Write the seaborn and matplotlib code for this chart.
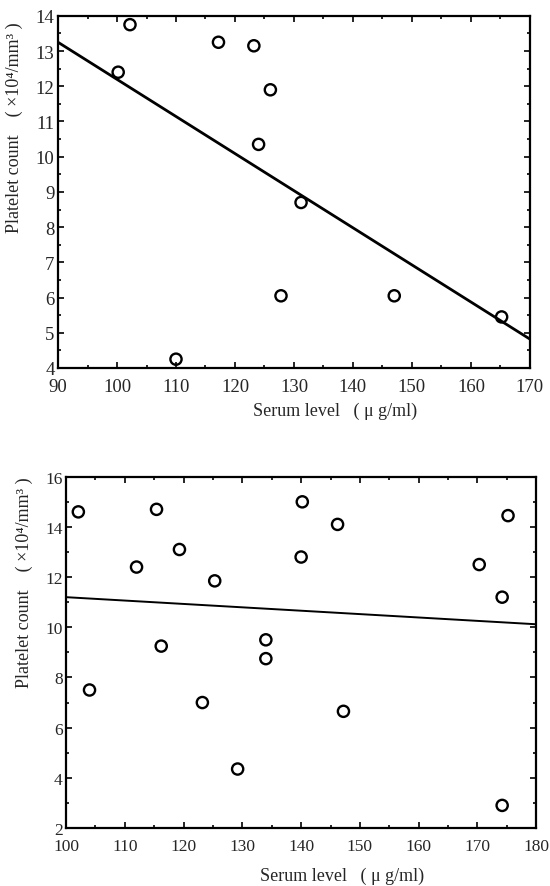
import numpy as np
import pandas as pd
import seaborn as sns
from matplotlib import pyplot as plt
from matplotlib.ticker import MultipleLocator

# panel 1 (top)
serum_top = [100.2, 102.2, 110.0, 117.2, 123.2, 126.0, 124.0, 131.2, 127.8, 147.0, 165.2]
platelet_top = [12.4, 13.75, 4.25, 13.25, 13.15, 11.9, 10.35, 8.7, 6.05, 6.05, 5.45]
fit_x_top = [90, 170]
fit_y_top = [13.25, 4.82]

# panel 2 (bottom)
serum_bot = [102.1, 104.0, 112.0, 115.4, 116.2, 119.3, 123.2, 125.3, 129.2, 134.0, 134.0,
             140.2, 140.0, 146.2, 147.2, 170.3, 175.2, 174.2, 174.2]
platelet_bot = [14.6, 7.5, 12.4, 14.7, 9.25, 13.1, 7.0, 11.85, 4.35, 9.5, 8.75,
                15.0, 12.8, 14.1, 6.65, 12.5, 14.45, 11.2, 2.9]
fit_x_bot = [100, 180]
fit_y_bot = [11.2, 10.12]

sns.set_style("ticks")
plt.rcParams['font.family'] = ['Liberation Serif', 'DejaVu Serif']

fig = plt.figure(figsize=(5.5, 8.87), dpi=100)
ax1 = fig.add_axes([0.1055, 0.584, 0.858, 0.397])
ax2 = fig.add_axes([0.12, 0.0654, 0.855, 0.396])

top = pd.DataFrame({"serum": serum_top, "platelet": platelet_top})
bot = pd.DataFrame({"serum": serum_bot, "platelet": platelet_bot})

ylab = "Platelet count    ( ×10⁴/mm³ )"
xlab = "Serum level   ( μ g/ml)"

panels = [
    (ax1, top, fit_x_top, fit_y_top, (90, 170), (4, 14), 1, 0.5, 2.0, 13.5),
    (ax2, bot, fit_x_bot, fit_y_bot, (100, 180), (2, 16), 2, 1, 1.4, 12.5),
]
for ax, df, fx, fy, xl, yl, ymaj, ymin, lw, fs in panels:
    sns.lineplot(x=fx, y=fy, ax=ax, color="black", lw=lw)
    sns.scatterplot(data=df, x="serum", y="platelet", ax=ax, s=65, marker="o",
                    facecolor="none", edgecolor="black", linewidth=1.7, zorder=3)
    ax.set_xlim(*xl)
    ax.set_ylim(*yl)
    ax.xaxis.set_major_locator(MultipleLocator(10))
    ax.xaxis.set_minor_locator(MultipleLocator(5))
    ax.yaxis.set_major_locator(MultipleLocator(ymaj))
    ax.yaxis.set_minor_locator(MultipleLocator(ymin))
    for s in ax.spines.values():
        s.set_visible(True)
        s.set_linewidth(1.6)
        s.set_color("black")
    ax.tick_params(which="both", direction="in", top=True, right=True,
                   labelsize=fs, width=1.2, color="black")
    ax.tick_params(which="major", length=4.5)
    ax.tick_params(which="minor", length=2.5)
    ax.tick_params(axis="x", pad=7.5)
    ax.tick_params(axis="y", pad=2.5)
    ax.set_xlabel(xlab, fontsize=13)
    ax.set_ylabel(ylab, fontsize=13)

ax1.xaxis.set_label_coords(0.587, -0.097)
ax1.yaxis.set_label_coords(-0.074, 0.686)
ax2.xaxis.set_label_coords(0.586, -0.111)
ax2.yaxis.set_label_coords(-0.07, 0.70)

fig.savefig("out.png", dpi=100)
